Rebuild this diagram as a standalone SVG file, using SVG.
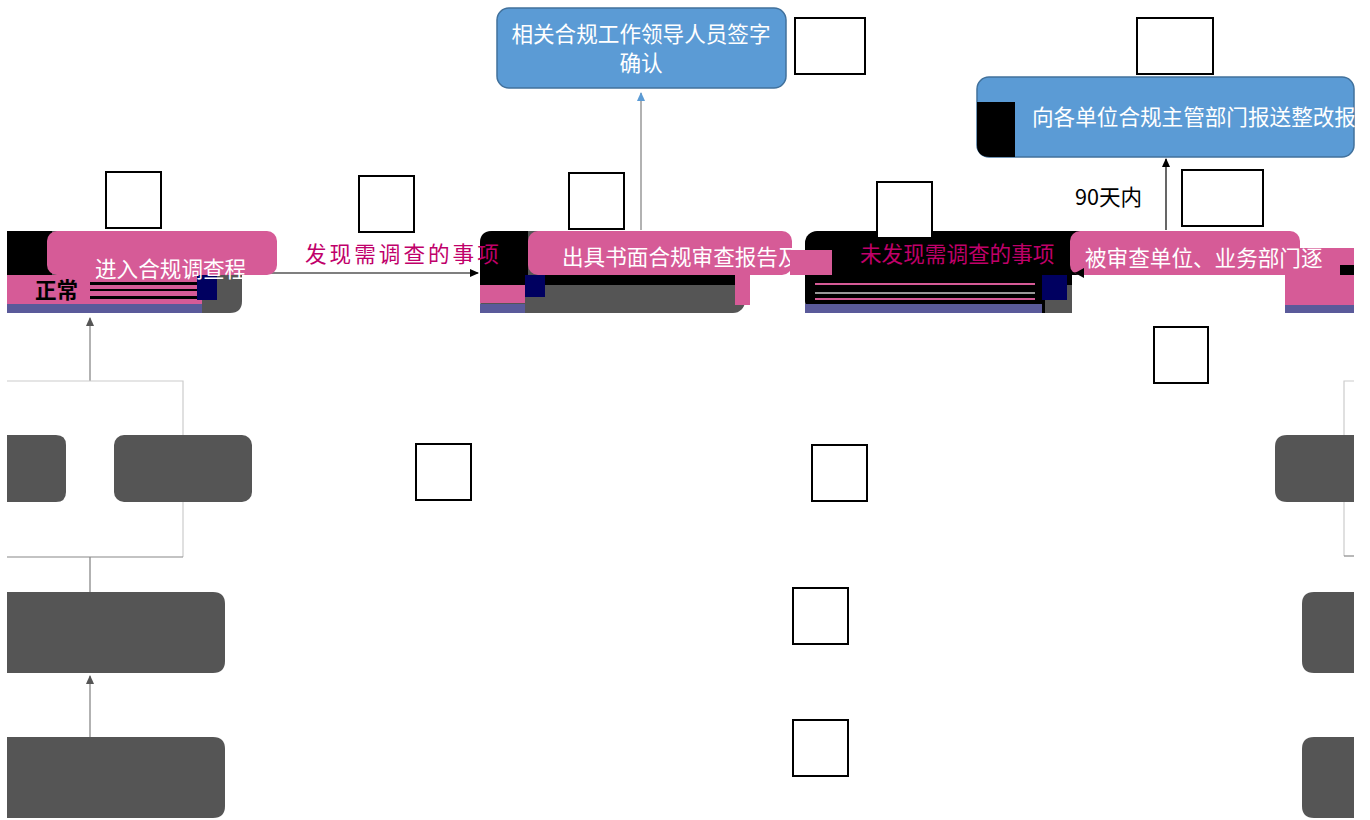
<svg xmlns="http://www.w3.org/2000/svg" width="1370" height="820" viewBox="0 0 1370 820">
<defs>
<style>
.t{font-family:"Noto Sans CJK SC","Liberation Sans",sans-serif;font-size:21.6px}
.w{fill:#ffffff}
.m{fill:#c0006a}
.k{fill:#000000}
.sq{fill:#ffffff;stroke:#000000;stroke-width:2}
.blue{fill:#5b9bd5;stroke:#41719c;stroke-width:1.5}
.pink{fill:#d65b97}
.gray{fill:#555555}
.navy{fill:#000060}
.strip{fill:#5a5a9a}
.ln{fill:none;stroke:#7f7f7f;stroke-width:1.2}
.lk{fill:none;stroke:#000000;stroke-width:1.2}
.br{fill:none;stroke:#cccccc;stroke-width:1.2}
</style>
<marker id="ah" markerWidth="10" markerHeight="10" refX="8" refY="5" orient="auto" markerUnits="userSpaceOnUse"><path d="M0,1 L9,5 L0,9 Z" fill="#000000"/></marker>
<marker id="ahg" markerWidth="10" markerHeight="10" refX="8" refY="5" orient="auto" markerUnits="userSpaceOnUse"><path d="M0,1 L9,5 L0,9 Z" fill="#555555"/></marker>
<marker id="ahb" markerWidth="10" markerHeight="10" refX="8" refY="5" orient="auto" markerUnits="userSpaceOnUse"><path d="M0,1 L9,5 L0,9 Z" fill="#5b9bd5"/></marker>
</defs>
<rect width="1370" height="820" fill="#ffffff"/>

<g id="connectors">
<line class="ln" x1="641" y1="230" x2="641" y2="93" marker-end="url(#ahb)"/>
<line class="lk" x1="1166" y1="230" x2="1166" y2="159" marker-end="url(#ah)"/>
<line class="lk" x1="242" y1="273" x2="478" y2="273" marker-end="url(#ah)"/>
<line class="ln" x1="90" y1="381" x2="90" y2="318" marker-end="url(#ahg)"/>
<line class="ln" x1="90" y1="557" x2="90" y2="592"/>
<line class="ln" x1="90" y1="737" x2="90" y2="676" marker-end="url(#ahg)"/>
<polyline class="br" points="7,381 183,381 183,557"/>
<line x1="7" y1="557" x2="183" y2="557" stroke="#888888" stroke-width="1.2"/>
<polyline class="br" points="1354,381 1344,381 1344,556"/>
<line x1="1344" y1="556" x2="1354" y2="556" stroke="#888888" stroke-width="1.2"/>
<text class="t k" x="1075" y="205">90天内</text>
</g>

<g id="node-sign">
<rect class="blue" x="497" y="8" width="289" height="80" rx="12"/>
<text class="t w" x="641" y="42" text-anchor="middle">相关合规工作领导人员签字</text>
<text class="t w" x="641" y="71" text-anchor="middle">确认</text>
</g>

<g id="node-report">
<rect class="blue" x="977" y="77" width="377" height="80" rx="12"/>
<path d="M977,102 L1015,102 L1015,157 L990,157 Q977,157 977,145 Z" fill="#000000"/>
<text class="t w" x="1032" y="125">向各单位合规主管部门报送整改报</text>
</g>

<g id="node-investigate">
<path class="gray" d="M7,231 L230,231 Q242,231 242,243 L242,301 Q242,313 230,313 L7,313 Z"/>
<path d="M7,231 L52,231 L52,275 L7,275 Z" fill="#000000"/>
<rect class="pink" x="47" y="231" width="230" height="44" rx="10"/>
<rect class="pink" x="7" y="275" width="195" height="29"/>
<rect x="90" y="282" width="112" height="3" fill="#000000"/>
<rect x="90" y="296" width="112" height="3" fill="#000000"/>
<rect x="90" y="289" width="112" height="2" fill="#000000"/>
<rect class="navy" x="197" y="275" width="20" height="25"/>
<rect class="strip" x="7" y="304" width="195" height="9"/>
<text class="t w" x="95" y="277">进入合规调查程</text>
<text class="t k" x="35" y="298" font-weight="bold">正常</text>
</g>

<g id="node-written">
<rect class="gray" x="480" y="231" width="265" height="82" rx="12"/>
<path d="M480,243 Q480,231 492,231 L528,231 L528,285 L480,285 Z" fill="#000000"/>
<rect class="pink" x="480" y="285" width="45" height="18"/>
<rect class="strip" x="480" y="304" width="45" height="9"/>
<rect class="navy" x="525" y="275" width="20" height="22"/>
<rect x="545" y="275" width="195" height="10" fill="#000000"/>
<rect class="pink" x="528" y="231" width="264" height="44" rx="10"/>
<rect class="pink" x="735" y="270" width="15" height="35"/>
<text class="t w" x="562" y="265">出具书面合规审查报告及</text>
</g>

<g id="node-none">
<rect x="805" y="231" width="267" height="82" rx="12" fill="#000000"/>
<rect class="gray" x="1045" y="285" width="27" height="28"/>
<rect class="navy" x="1042" y="275" width="25" height="25"/>
<rect class="strip" x="805" y="304" width="237" height="9"/>
<rect class="pink" x="790" y="250" width="42" height="25"/>
<rect x="815" y="283" width="220" height="2" fill="#d65b97"/>
<rect x="815" y="292" width="220" height="2" fill="#ffffff" opacity="0.6"/>
<rect x="815" y="298" width="220" height="2" fill="#d65b97"/>
</g>

<g id="node-rectify">
<path d="M1030,243 Q1030,231 1042,231 L1080,231 L1080,275 L1030,275 Z" fill="#000000"/>
<rect class="pink" x="1070" y="231" width="230" height="44" rx="10"/>
<rect class="pink" x="1285" y="248" width="69" height="57"/>
<rect x="1340" y="265" width="14" height="10" fill="#000000"/>
<rect class="strip" x="1285" y="305" width="69" height="8"/>
<text class="t w" x="1085" y="266">被审查单位、业务部门逐</text>
</g>

<g id="edge-labels">
<text class="t m" x="305" y="262" font-size="23" letter-spacing="3">发现需调查的事项</text>
<text class="t m" x="860" y="262">未发现需调查的事项</text>
<path d="M1084,268 L1075,273 L1084,278 Z" fill="#000000"/>
<line class="lk" x1="1072" y1="273" x2="1080" y2="273"/>
</g>

<g id="node-l1"><path class="gray" d="M7,435 L56,435 Q66,435 66,445 L66,492 Q66,502 56,502 L7,502 Z"/></g>
<g id="node-l2"><rect class="gray" x="114" y="435" width="138" height="67" rx="10"/></g>
<g id="node-l3"><path class="gray" d="M7,592 L213,592 Q225,592 225,604 L225,661 Q225,673 213,673 L7,673 Z"/></g>
<g id="node-l4"><path class="gray" d="M7,737 L213,737 Q225,737 225,749 L225,806 Q225,818 213,818 L7,818 Z"/></g>
<g id="node-r1"><path class="gray" d="M1354,435 L1287,435 Q1275,435 1275,447 L1275,490 Q1275,502 1287,502 L1354,502 Z"/></g>
<g id="node-r2"><path class="gray" d="M1354,592 L1314,592 Q1302,592 1302,604 L1302,661 Q1302,673 1314,673 L1354,673 Z"/></g>
<g id="node-r3"><path class="gray" d="M1354,737 L1314,737 Q1302,737 1302,749 L1302,806 Q1302,818 1314,818 L1354,818 Z"/></g>

<g id="placeholders">
<rect class="sq" x="106" y="172" width="55" height="56"/>
<rect class="sq" x="359" y="176" width="55" height="56"/>
<rect class="sq" x="569" y="173" width="55" height="56"/>
<rect class="sq" x="877" y="182" width="55" height="56"/>
<rect class="sq" x="795" y="18" width="70" height="56"/>
<rect class="sq" x="1137" y="18" width="76" height="56"/>
<rect class="sq" x="1182" y="170" width="81" height="56"/>
<rect class="sq" x="1154" y="327" width="54" height="56"/>
<rect class="sq" x="416" y="444" width="55" height="56"/>
<rect class="sq" x="812" y="445" width="55" height="56"/>
<rect class="sq" x="793" y="588" width="55" height="56"/>
<rect class="sq" x="793" y="720" width="55" height="56"/>
</g>
</svg>
